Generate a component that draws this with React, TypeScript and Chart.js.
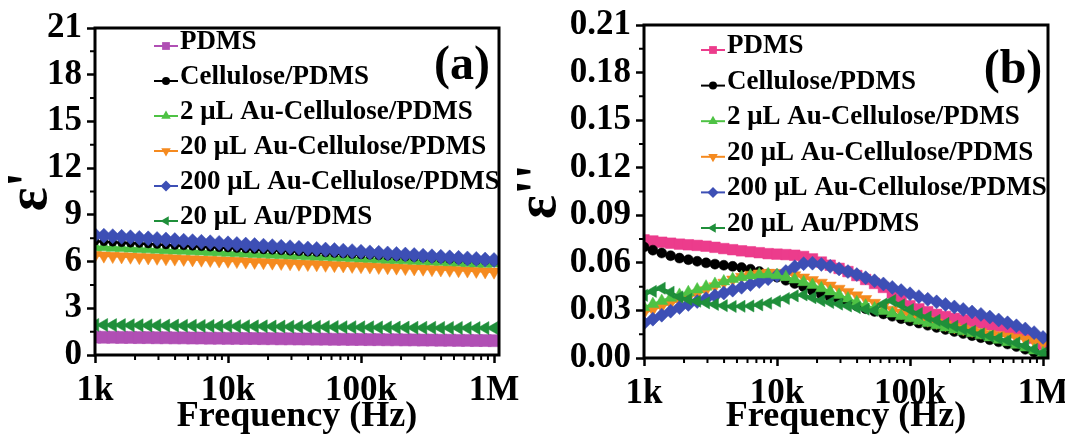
import React, { useEffect, useRef } from 'react';
import { Chart, registerables } from 'chart.js';

Chart.register(...registerables);

const FONT = '"Liberation Serif", "Times New Roman", Times, serif';

// ---------------- data ----------------
const freq = [1000, 1166, 1359, 1585, 1848, 2154, 2512, 2929, 3415, 3981, 4642, 5412, 6310, 7356, 8577,
  10000, 11659, 13594, 15849, 18478, 21544, 25119, 29286, 34145, 39811, 46416, 54117, 63096, 73564, 85770,
  100000, 116591, 135936, 158489, 184785, 215443, 251189, 292864, 341455, 398107, 464159, 541170, 630957,
  735642, 857696, 1000000];

const seriesNames = ['PDMS', 'Cellulose/PDMS', '2 μL Au-Cellulose/PDMS', '20 μL Au-Cellulose/PDMS',
  '200 μL Au-Cellulose/PDMS', '20 μL Au/PDMS'];

// Panel (a): real permittivity ε'
const aPDMS = [1.15, 1.14, 1.14, 1.13, 1.13, 1.12, 1.12, 1.11, 1.11, 1.10, 1.10, 1.09, 1.09, 1.08, 1.08, 1.07,
  1.07, 1.06, 1.06, 1.05, 1.05, 1.04, 1.04, 1.03, 1.03, 1.02, 1.02, 1.01, 1.01, 1.00, 1.00, 0.99, 0.99, 0.98,
  0.98, 0.97, 0.97, 0.96, 0.96, 0.95, 0.95, 0.94, 0.94, 0.93, 0.93, 0.92];
const aCellulose = [7.30, 7.27, 7.24, 7.21, 7.18, 7.16, 7.13, 7.10, 7.07, 7.04, 7.01, 6.98, 6.95, 6.92, 6.89,
  6.87, 6.84, 6.81, 6.78, 6.75, 6.72, 6.69, 6.66, 6.63, 6.60, 6.58, 6.55, 6.52, 6.49, 6.46, 6.43, 6.40, 6.37,
  6.34, 6.31, 6.29, 6.26, 6.23, 6.20, 6.17, 6.14, 6.11, 6.08, 6.05, 6.03, 6.00];
const aAu2 = [6.95, 6.93, 6.90, 6.88, 6.85, 6.83, 6.80, 6.78, 6.75, 6.73, 6.71, 6.68, 6.66, 6.63, 6.61, 6.58,
  6.56, 6.53, 6.51, 6.49, 6.46, 6.44, 6.41, 6.39, 6.36, 6.34, 6.32, 6.29, 6.27, 6.24, 6.22, 6.19, 6.17, 6.14,
  6.12, 6.10, 6.07, 6.05, 6.02, 6.00, 5.97, 5.95, 5.92, 5.90, 5.88, 5.90];
const aAu20 = [6.40, 6.38, 6.35, 6.33, 6.31, 6.28, 6.26, 6.24, 6.21, 6.19, 6.17, 6.14, 6.12, 6.10, 6.07, 6.05,
  6.03, 6.00, 5.98, 5.96, 5.93, 5.91, 5.89, 5.86, 5.84, 5.82, 5.79, 5.77, 5.75, 5.72, 5.70, 5.68, 5.65, 5.63,
  5.61, 5.58, 5.56, 5.54, 5.51, 5.49, 5.47, 5.44, 5.42, 5.40, 5.37, 5.35];
const aAu200 = [7.70, 7.66, 7.63, 7.59, 7.56, 7.52, 7.49, 7.45, 7.42, 7.38, 7.34, 7.31, 7.27, 7.24, 7.20, 7.17,
  7.13, 7.09, 7.06, 7.02, 6.99, 6.95, 6.92, 6.88, 6.84, 6.81, 6.77, 6.74, 6.70, 6.67, 6.63, 6.59, 6.56, 6.52,
  6.49, 6.45, 6.42, 6.38, 6.34, 6.31, 6.27, 6.24, 6.20, 6.17, 6.13, 6.10];
const aAuPDMS = [1.93, 1.93, 1.92, 1.92, 1.91, 1.91, 1.90, 1.90, 1.89, 1.89, 1.88, 1.88, 1.87, 1.87, 1.86, 1.86,
  1.85, 1.85, 1.84, 1.84, 1.83, 1.83, 1.82, 1.82, 1.81, 1.81, 1.80, 1.80, 1.79, 1.79, 1.78, 1.78, 1.77, 1.77,
  1.76, 1.76, 1.75, 1.75, 1.75, 1.74, 1.74, 1.74, 1.73, 1.73, 1.73, 1.73];

// Panel (b): imaginary permittivity ε''
const bPDMS = [0.0745, 0.0738, 0.0730, 0.0724, 0.0718, 0.0714, 0.0710, 0.0705, 0.0698, 0.0690,
  0.0683, 0.0676, 0.0670, 0.0664, 0.0658, 0.0655, 0.0652, 0.0648, 0.0640, 0.0625,
  0.0605, 0.0585, 0.0565, 0.0545, 0.0520, 0.0495, 0.0470, 0.0445, 0.0410, 0.0365,
  0.0330, 0.0310, 0.0292, 0.0275, 0.0262, 0.0250, 0.0240, 0.0230, 0.0220, 0.0210,
  0.0200, 0.0190, 0.0175, 0.0155, 0.0125, 0.0085];
const bCellulose = [0.0700, 0.0680, 0.0662, 0.0645, 0.0630, 0.0620, 0.0610, 0.0600, 0.0592, 0.0585,
  0.0578, 0.0570, 0.0560, 0.0545, 0.0530, 0.0510, 0.0490, 0.0470, 0.0450, 0.0425,
  0.0400, 0.0382, 0.0364, 0.0346, 0.0328, 0.0311, 0.0294, 0.0278, 0.0263, 0.0248,
  0.0234, 0.0220, 0.0206, 0.0193, 0.0180, 0.0167, 0.0154, 0.0141, 0.0128, 0.0115,
  0.0102, 0.0088, 0.0072, 0.0055, 0.0036, 0.0018];
const bAu2 = [0.0320, 0.0340, 0.0360, 0.0380, 0.0398, 0.0415, 0.0432, 0.0450, 0.0467, 0.0483,
  0.0498, 0.0510, 0.0520, 0.0527, 0.0528, 0.0522, 0.0510, 0.0495, 0.0478, 0.0460,
  0.0440, 0.0420, 0.0398, 0.0375, 0.0352, 0.0330, 0.0312, 0.0296, 0.0280, 0.0265,
  0.0250, 0.0235, 0.0220, 0.0206, 0.0192, 0.0180, 0.0168, 0.0156, 0.0143, 0.0130,
  0.0115, 0.0100, 0.0083, 0.0066, 0.0048, 0.0030];
const bAu20 = [0.0285, 0.0305, 0.0325, 0.0345, 0.0363, 0.0382, 0.0405, 0.0428, 0.0452, 0.0475,
  0.0495, 0.0512, 0.0525, 0.0533, 0.0537, 0.0537, 0.0533, 0.0522, 0.0508, 0.0492,
  0.0475, 0.0457, 0.0437, 0.0417, 0.0395, 0.0372, 0.0348, 0.0325, 0.0305, 0.0287,
  0.0270, 0.0252, 0.0238, 0.0224, 0.0210, 0.0196, 0.0184, 0.0173, 0.0162, 0.0152,
  0.0144, 0.0136, 0.0128, 0.0118, 0.0106, 0.0095];
const bAu200 = [0.0220, 0.0245, 0.0270, 0.0295, 0.0318, 0.0338, 0.0356, 0.0374, 0.0392, 0.0410,
  0.0428, 0.0446, 0.0464, 0.0482, 0.0500, 0.0520, 0.0545, 0.0575, 0.0595, 0.0598,
  0.0590, 0.0578, 0.0562, 0.0545, 0.0526, 0.0506, 0.0487, 0.0467, 0.0445, 0.0425,
  0.0405, 0.0387, 0.0370, 0.0354, 0.0338, 0.0322, 0.0306, 0.0290, 0.0275, 0.0258,
  0.0240, 0.0222, 0.0203, 0.0183, 0.0160, 0.0130];
const bAuPDMS = [0.0395, 0.0420, 0.0440, 0.0415, 0.0385, 0.0370, 0.0358, 0.0348, 0.0338, 0.0330,
  0.0325, 0.0326, 0.0328, 0.0335, 0.0345, 0.0358, 0.0375, 0.0392, 0.0398, 0.0380,
  0.0362, 0.0350, 0.0340, 0.0328, 0.0318, 0.0308, 0.0300, 0.0340, 0.0362, 0.0335,
  0.0305, 0.0280, 0.0258, 0.0238, 0.0218, 0.0200, 0.0183, 0.0168, 0.0152, 0.0138,
  0.0124, 0.0110, 0.0095, 0.0078, 0.0055, 0.0030];

// ticks
const xTickValues = [1000, 10000, 100000, 1000000];
const xTickLabels = ['1k', '10k', '100k', '1M'];
const xMinorValues = [2000, 3000, 4000, 5000, 6000, 7000, 8000, 9000, 20000, 30000, 40000, 50000, 60000,
  70000, 80000, 90000, 200000, 300000, 400000, 500000, 600000, 700000, 800000, 900000];
const yTicksA = [0, 3, 6, 9, 12, 15, 18, 21];
const yTickLabelsA = ['0', '3', '6', '9', '12', '15', '18', '21'];
const yMinorA = [1.5, 4.5, 7.5, 10.5, 13.5, 16.5, 19.5];
const yTicksB = [0, 0.03, 0.06, 0.09, 0.12, 0.15, 0.18, 0.21];
const yTickLabelsB = ['0.00', '0.03', '0.06', '0.09', '0.12', '0.15', '0.18', '0.21'];
const yMinorB = [0.015, 0.045, 0.075, 0.105, 0.135, 0.165, 0.195];

// styles (index matches seriesNames)
const colorsA = ['#B04FB4', '#000000', '#4EC244', '#F58A1F', '#3D4FB5', '#1F8F3A'];
const colorsB = ['#EC3C8C', '#000000', '#4EC244', '#F58A1F', '#3D4FB5', '#1F8F3A'];
const pointStyles = ['rect', 'circle', 'triangle', 'triangle', 'rectRot', 'triangle'];
const pointRotations = [0, 0, 0, 180, 0, -90];
const radiiA = [8.5, 4, 7.5, 7.5, 7.5, 7.5];
const radiiB = [7.5, 5, 7, 7, 7, 7];
const zOrderA = [5, 1, 2, 3, 0, 4];
const zOrderB = [5, 4, 1, 3, 2, 0];

type PanelCfg = {
  canvasX: number; canvasW: number;
  padRight: number; padTop: number; yAxisW: number; xAxisH: number;
  yMax: number; yTicks: number[]; yLabels: string[]; yMinor: number[];
  yTitle: string; yTitlePad: number;
  series: number[][]; colors: string[]; radii: number[]; zOrder: number[];
  tag: string; tagX: number; tagY: number;
  legX: number; legY: number; legDy: number;
};

const panelA: PanelCfg = {
  canvasX: 0, canvasW: 532, padRight: 33, padTop: 28, yAxisW: 95, xAxisH: 80,
  yMax: 21, yTicks: yTicksA, yLabels: yTickLabelsA, yMinor: yMinorA,
  yTitle: "ε'", yTitlePad: 4,
  series: [aPDMS, aCellulose, aAu2, aAu20, aAu200, aAuPDMS], colors: colorsA, radii: radiiA, zOrder: zOrderA,
  tag: '(a)', tagX: 462, tagY: 79,
  legX: 166, legY: 42, legDy: 35,
};

const panelB: PanelCfg = {
  canvasX: 505, canvasW: 560, padRight: 17, padTop: 25, yAxisW: 139, xAxisH: 77,
  yMax: 0.21, yTicks: yTicksB, yLabels: yTickLabelsB, yMinor: yMinorB,
  yTitle: "ε''", yTitlePad: 8,
  series: [bPDMS, bCellulose, bAu2, bAu20, bAu200, bAuPDMS], colors: colorsB, radii: radiiB, zOrder: zOrderB,
  tag: '(b)', tagX: 508, tagY: 83,
  legX: 208, legY: 46, legDy: 35.6,
};

function drawMarker(ctx: CanvasRenderingContext2D, style: string, rot: number, x: number, y: number, r: number) {
  ctx.beginPath();
  if (style === 'circle') {
    ctx.arc(x, y, r, 0, Math.PI * 2);
  } else if (style === 'rect') {
    const s = r * Math.SQRT1_2;
    ctx.rect(x - s, y - s, 2 * s, 2 * s);
  } else if (style === 'rectRot') {
    ctx.moveTo(x, y - r); ctx.lineTo(x + r, y); ctx.lineTo(x, y + r); ctx.lineTo(x - r, y); ctx.closePath();
  } else {
    let a = (rot * Math.PI) / 180;
    ctx.moveTo(x + Math.sin(a) * r, y - Math.cos(a) * r);
    a += (2 * Math.PI) / 3;
    ctx.lineTo(x + Math.sin(a) * r, y - Math.cos(a) * r);
    a += (2 * Math.PI) / 3;
    ctx.lineTo(x + Math.sin(a) * r, y - Math.cos(a) * r);
    ctx.closePath();
  }
  ctx.fill();
}

function PanelChart({ cfg }: { cfg: PanelCfg }) {
  const ref = useRef<HTMLCanvasElement>(null);
  useEffect(() => {
    const canvas = ref.current;
    if (!canvas) return;
    const datasets = cfg.series.map((vals, i) => ({
      label: seriesNames[i],
      data: vals.map((v, k) => ({ x: freq[k], y: v })),
      borderColor: cfg.colors[i],
      backgroundColor: cfg.colors[i],
      borderWidth: 2.5,
      pointStyle: pointStyles[i] as any,
      pointRotation: pointRotations[i],
      pointRadius: cfg.radii[i],
      pointBorderWidth: 0.5,
      pointBorderColor: cfg.colors[i],
      pointBackgroundColor: cfg.colors[i],
      order: cfg.zOrder[i],
      tension: 0,
    }));

    const decor = {
      id: 'decor',
      afterDraw(chart: any) {
        const { ctx, chartArea: a, scales } = chart;
        ctx.save();
        ctx.strokeStyle = '#000';
        ctx.lineWidth = 2;
        ctx.beginPath();
        for (const v of xMinorValues) {
          const px = scales.x.getPixelForValue(v);
          ctx.moveTo(px, a.bottom);
          ctx.lineTo(px, a.bottom + 5);
        }
        for (const v of cfg.yMinor) {
          const py = scales.y.getPixelForValue(v);
          ctx.moveTo(a.left - 5, py);
          ctx.lineTo(a.left, py);
        }
        ctx.stroke();
        ctx.lineWidth = 3;
        ctx.strokeRect(a.left, a.top, a.right - a.left, a.bottom - a.top);

        ctx.fillStyle = '#000';
        ctx.font = `bold 48px ${FONT}`;
        ctx.textAlign = 'center';
        ctx.textBaseline = 'alphabetic';
        ctx.fillText(cfg.tag, cfg.tagX, cfg.tagY);

        ctx.font = `bold 27px ${FONT}`;
        ctx.textAlign = 'left';
        ctx.textBaseline = 'middle';
        chart.data.datasets.forEach((ds: any, i: number) => {
          const y = cfg.legY + i * cfg.legDy;
          const my = y + 4;
          ctx.strokeStyle = ds.borderColor;
          ctx.lineWidth = 2;
          ctx.beginPath();
          ctx.moveTo(cfg.legX - 12, my);
          ctx.lineTo(cfg.legX + 12, my);
          ctx.stroke();
          ctx.fillStyle = ds.borderColor;
          drawMarker(ctx, pointStyles[i], pointRotations[i], cfg.legX, my, i === 1 ? 4 : 5.5);
          ctx.fillStyle = '#000';
          ctx.fillText(ds.label, cfg.legX + 14, y);
        });
        ctx.restore();
      },
    };

    const tickFont = { family: FONT, size: 35, weight: 'bold' as const, lineHeight: 1 };
    const chart = new Chart(canvas, {
      type: 'line',
      data: { datasets },
      options: {
        animation: false,
        responsive: false,
        maintainAspectRatio: false,
        layout: { padding: { left: 0, top: cfg.padTop, right: cfg.padRight, bottom: 0 } },
        plugins: { legend: { display: false }, tooltip: { enabled: false } },
        scales: {
          x: {
            type: 'logarithmic',
            min: 1000,
            max: 1090000,
            afterBuildTicks: (s: any) => { s.ticks = xTickValues.map((v) => ({ value: v })); },
            afterFit: (s: any) => { s.height = cfg.xAxisH; s.paddingLeft = 0; s.paddingRight = 0; },
            ticks: {
              autoSkip: false, maxRotation: 0, minRotation: 0, padding: 10, color: '#000', font: tickFont,
              callback: (_v: any, i: number) => xTickLabels[i],
            },
            grid: { display: true, drawOnChartArea: false, drawTicks: true, tickLength: 8, tickWidth: 2.5, tickColor: '#000', color: '#000' },
            border: { display: false },
            title: {
              display: true, text: 'Frequency (Hz)', color: '#000',
              font: { family: FONT, size: 36, weight: 'bold', lineHeight: 1 }, padding: { top: 0, bottom: 0 },
            },
          },
          y: {
            type: 'linear',
            min: 0,
            max: cfg.yMax,
            afterBuildTicks: (s: any) => { s.ticks = cfg.yTicks.map((v) => ({ value: v })); },
            afterFit: (s: any) => { s.width = cfg.yAxisW; s.paddingTop = 0; s.paddingBottom = 0; },
            ticks: {
              padding: 5, color: '#000', font: tickFont,
              callback: (_v: any, i: number) => cfg.yLabels[i],
            },
            grid: { display: true, drawOnChartArea: false, drawTicks: true, tickLength: 8, tickWidth: 2.5, tickColor: '#000', color: '#000' },
            border: { display: false },
            title: {
              display: true, text: cfg.yTitle, color: '#000',
              font: { family: FONT, size: 56, weight: 'bold', lineHeight: 1 }, padding: { top: cfg.yTitlePad, bottom: 0 },
            },
          },
        },
      },
      plugins: [decor],
    } as any);
    return () => chart.destroy();
  }, [cfg]);
  return (
    <canvas
      ref={ref}
      width={cfg.canvasW}
      height={435}
      style={{ position: 'absolute', left: cfg.canvasX, top: 0, width: cfg.canvasW, height: 435 }}
    />
  );
}

export default function App() {
  return (
    <div style={{ position: 'absolute', left: 0, top: 0, width: 1065, height: 435, background: '#ffffff', overflow: 'hidden' }}>
      <PanelChart cfg={panelA} />
      <PanelChart cfg={panelB} />
    </div>
  );
}
